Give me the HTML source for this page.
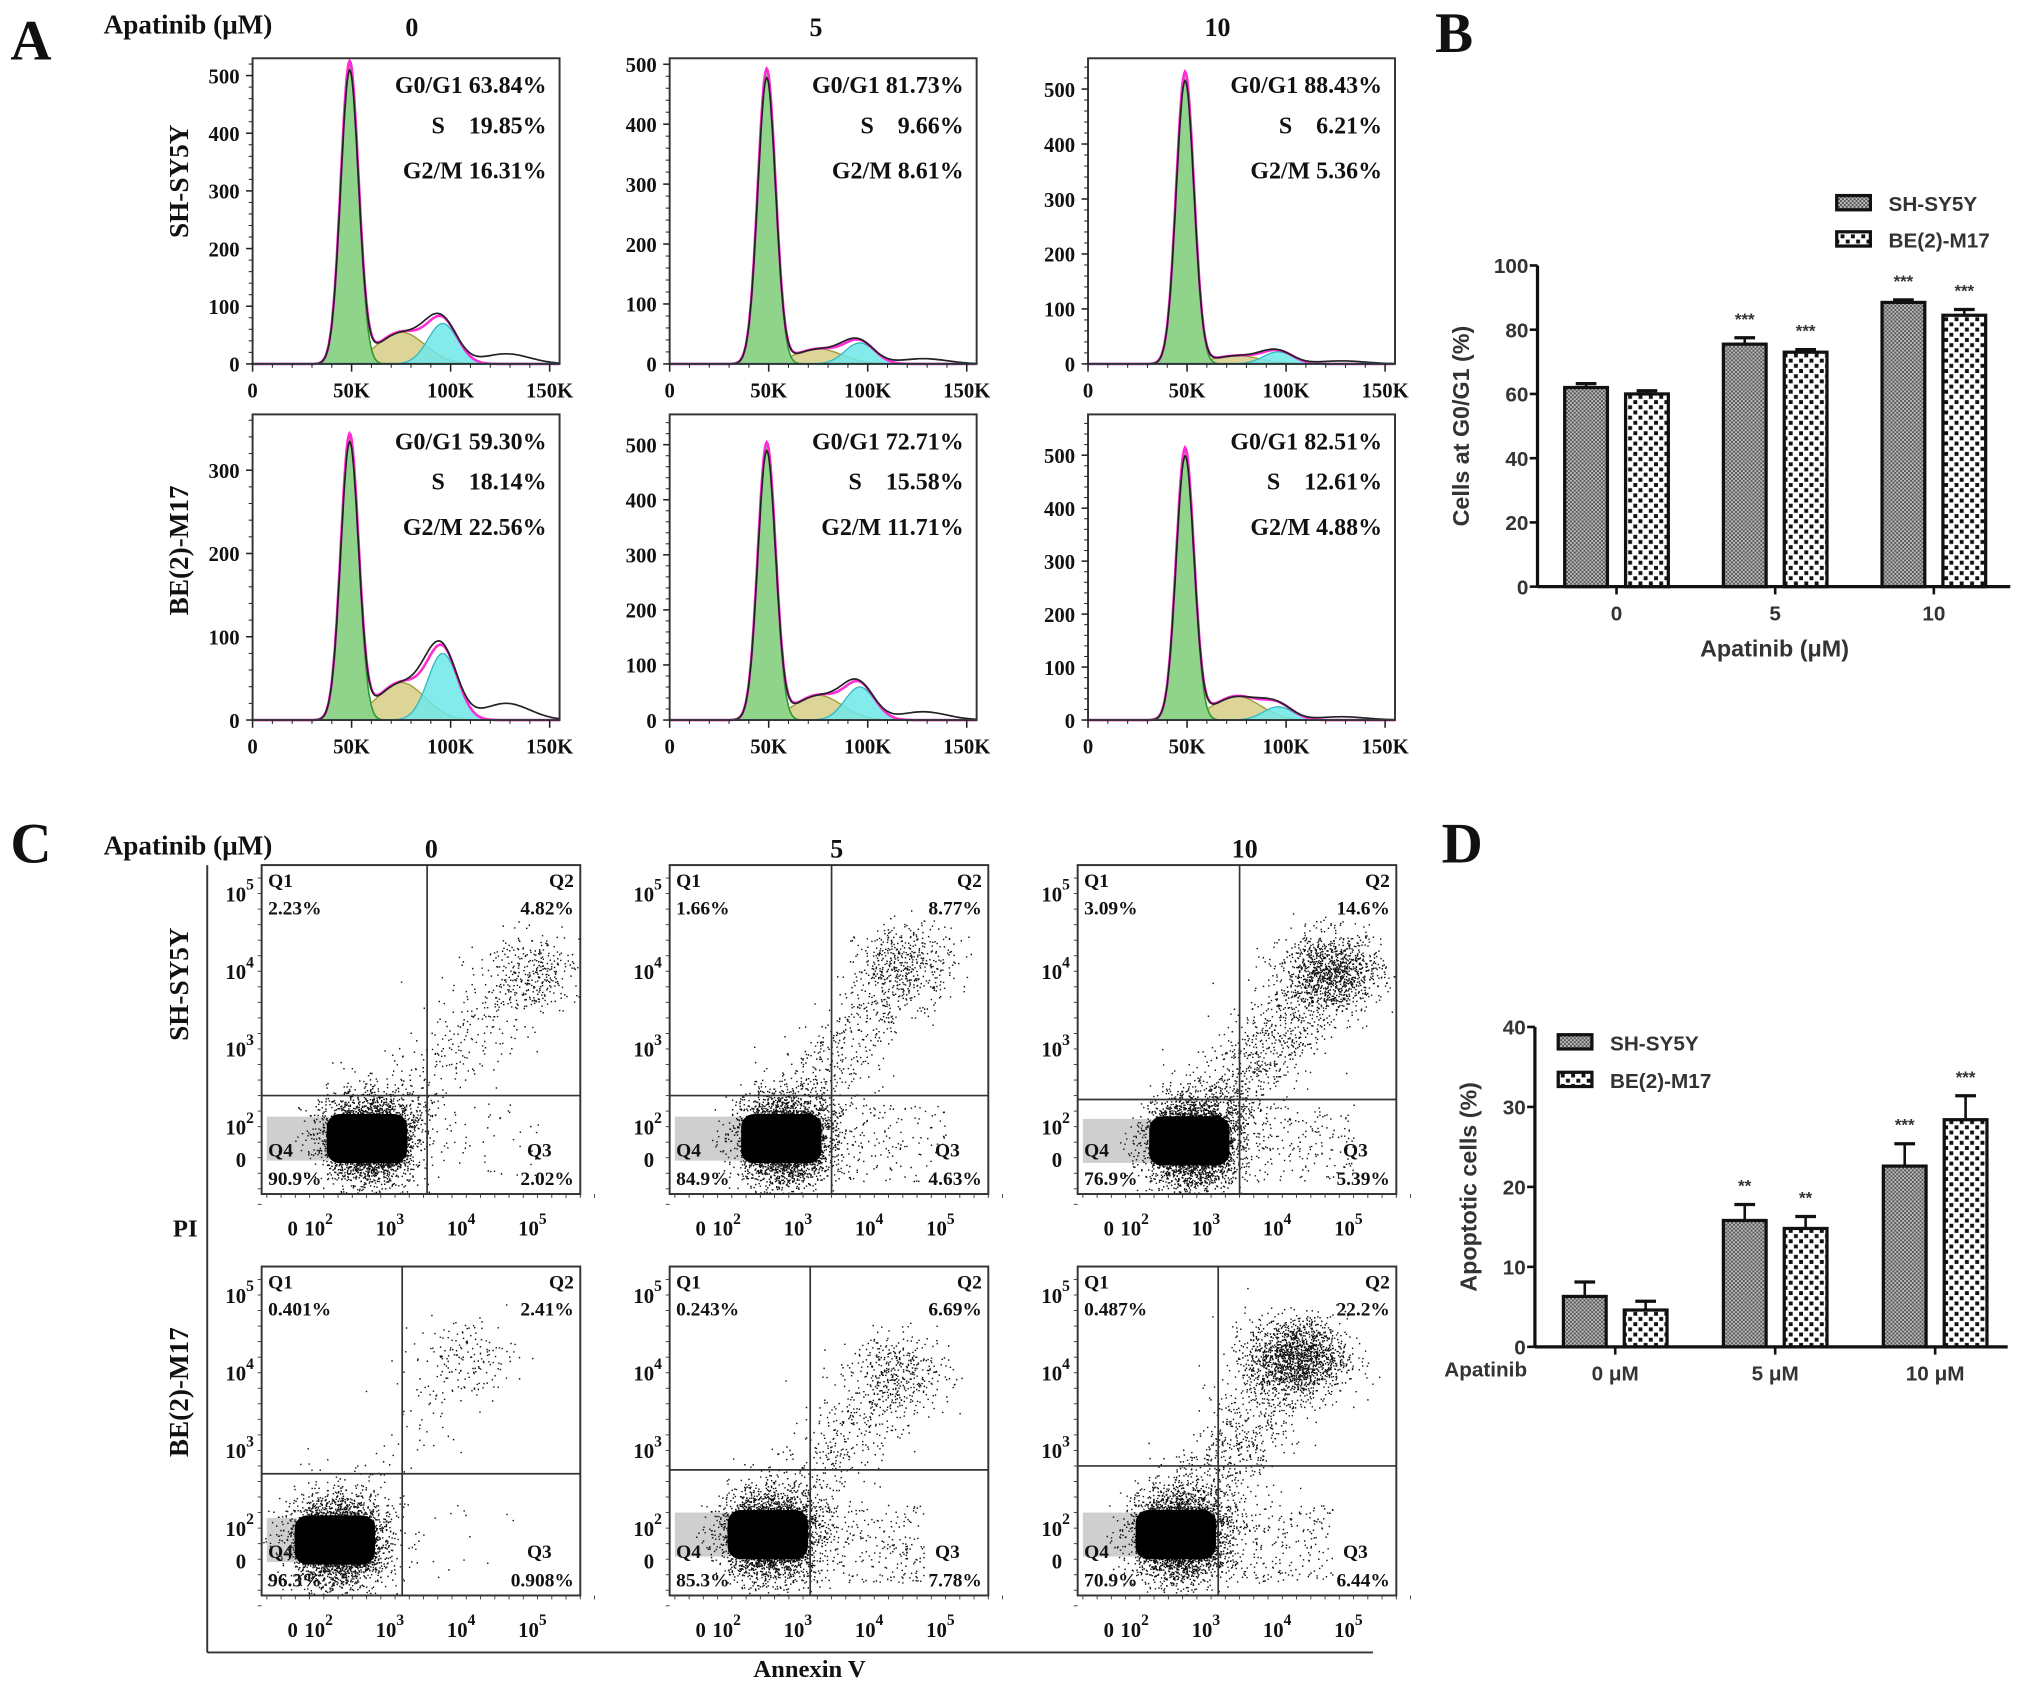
<!DOCTYPE html>
<html><head><meta charset="utf-8"><style>
html,body{margin:0;padding:0;background:#fff;}
svg{display:block;}
.sf{font-family:"Liberation Serif",serif;font-weight:bold;fill:#111;}
.ss{font-family:"Liberation Sans",sans-serif;font-weight:bold;fill:#333;}
</style></head><body>
<svg id="fig" width="2031" height="1690" viewBox="0 0 1568 1305" preserveAspectRatio="none" xmlns="http://www.w3.org/2000/svg">
<defs>
<pattern id="patSH" width="3" height="3" patternUnits="userSpaceOnUse"><rect width="3" height="3" fill="#bdbdbd"/><rect width="1.5" height="1.5" fill="#555"/><rect x="1.5" y="1.5" width="1.5" height="1.5" fill="#555"/></pattern>
<pattern id="patBE" width="8" height="8" patternUnits="userSpaceOnUse"><rect width="8" height="8" fill="#fff"/><rect x="1" y="1" width="3" height="3" fill="#111"/><rect x="5" y="5" width="3" height="3" fill="#111"/></pattern>
</defs>
<g id="root"></g>
</svg>
<script>
// ---------- Panel A data ----------
const histG1Peak = [520, 490, 530, 340, 500, 510];
const histSPeak  = [55, 25, 15, 45, 45, 45];
const histG2Peak = [70, 35, 22, 80, 60, 25];
const histYMax   = [530, 510, 556, 367, 555, 577];
const histYStep  = [100, 100, 100, 100, 100, 100];
const histG1Text = ["63.84%","81.73%","88.43%","59.30%","72.71%","82.51%"];
const histSText  = ["19.85%","9.66%","6.21%","18.14%","15.58%","12.61%"];
const histG2Text = ["16.31%","8.61%","5.36%","22.56%","11.71%","4.88%"];
const histXTicks = [0, 50, 100, 150];
const histXLabels = ["0","50K","100K","150K"];
// ---------- Panel B data ----------
const bCategories = ["0","5","10"];
const bSH = [62, 75.5, 88.5];
const bSHerr = [1.2, 2.0, 0.8];
const bBE = [60, 73, 84.5];
const bBEerr = [1.0, 0.8, 1.8];
const bSHstars = ["","***","***"];
const bBEstars = ["","***","***"];
const bTicks = [0,20,40,60,80,100];
// ---------- Panel D data ----------
const dCategories = ["0 μM","5 μM","10 μM"];
const dSH = [6.3, 15.8, 22.6];
const dSHerr = [1.8, 2.0, 2.8];
const dBE = [4.6, 14.8, 28.4];
const dBEerr = [1.1, 1.5, 3.0];
const dSHstars = ["","**","***"];
const dBEstars = ["","**","***"];
const dTicks = [0,10,20,30,40];
// ---------- Panel C data ----------
const dotQ1 = ["2.23%","1.66%","3.09%","0.401%","0.243%","0.487%"];
const dotQ2 = ["4.82%","8.77%","14.6%","2.41%","6.69%","22.2%"];
const dotQ3 = ["2.02%","4.63%","5.39%","0.908%","7.78%","6.44%"];
const dotQ4 = ["90.9%","84.9%","76.9%","96.3%","85.3%","70.9%"];
const dotQ4cx = [2.55, 2.64, 2.64, 2.1, 2.45, 2.45];
const dotQ4cy = [1.83, 1.83, 1.8, 1.83, 1.9, 1.9];
const dotQ2cx = [4.9, 4.45, 4.7, 4.0, 4.36, 4.2];
const dotQ2cy = [4.0, 4.1, 4.0, 4.2, 4.0, 4.2];
const dotQ2n  = [300, 400, 1000, 150, 350, 1500];
const dotTrailN = [350, 600, 1100, 120, 500, 900];
const dotQ3n = [50, 150, 180, 15, 250, 250];
const dotGateX = [3.45, 3.4, 3.4, 3.1, 3.1, 3.1];
const dotGateY = [2.4, 2.4, 2.35, 2.7, 2.75, 2.8];

const NS="http://www.w3.org/2000/svg";
const root=document.getElementById('root');
function mk(tag,attrs,parent){const e=document.createElementNS(NS,tag);for(const k in attrs)e.setAttribute(k,attrs[k]);(parent||root).appendChild(e);return e;}
function txt(x,y,s,cls,size,anchor,parent){const t=mk('text',{x:x,y:y,'class':cls,'font-size':size,'text-anchor':anchor||'start'},parent);t.textContent=s;return t;}

let t;
t=txt(8,46,"A","sf",44);
t=txt(1108,40,"B","sf",44);
t=txt(8,666,"C","sf",44);
t=txt(1113,666,"D","sf",44);
t=txt(80,26,"Apatinib (μM)","sf",21);
t=txt(80,660,"Apatinib (μM)","sf",21);
const doseHdr=["0","5","10"];
[318,630,940].forEach((x,i)=>{const e=txt(x,28,doseHdr[i],"sf",20,'middle');});
[333,646,961].forEach((x,i)=>{const e=txt(x,662,doseHdr[i],"sf",20,'middle');});
function vtext(x,y,s,cls,size,name){const e=txt(0,0,s,cls,size,'middle');e.setAttribute('transform',`translate(${x},${y}) rotate(-90)`);return e;}
vtext(145,140,"SH-SY5Y","sf",21,'row-label-sh');
vtext(145,425,"BE(2)-M17","sf",21,'row-label-be');
vtext(145,760,"SH-SY5Y","sf",21,'row-label-sh-c');
vtext(145,1075,"BE(2)-M17","sf",21,'row-label-be-c');
t=txt(143,955,"PI","sf",19,'middle');
t=txt(625,1295,"Annexin V","sf",19,'middle');

// ---------- Panel A histograms ----------
const histBoxes=[[195,45],[517,45],[840,45],[195,320],[517,320],[840,320]];
const HW=237, HH=236, XMAX=155;
function gauss(x,mu,s){return Math.exp(-0.5*((x-mu)/s)**2);}
histBoxes.forEach((b,i)=>{
  const g=mk('g',{});
  
  
  const [x0,y0]=b;
  const sx=v=>x0+v/XMAX*HW, sy=v=>y0+HH-v/histYMax[i]*HH;
  const comp={g1:[],s:[],g2:[],fit:[],raw:[]};
  for(let k=0;k<=XMAX;k+=0.5){
    const g1=histG1Peak[i]*gauss(k,49,4.5);
    const s=histSPeak[i]*gauss(k,75,12)*(k>40&&k<120?1:0);
    const g2=histG2Peak[i]*gauss(k,96,7.5);
    const fit=g1+s+g2;
    const raw=fit*0.97+histG2Peak[i]*0.25*gauss(k,128,12)+histG2Peak[i]*0.15*gauss(k,88,6);
    comp.g1.push([k,g1]);comp.s.push([k,s]);comp.g2.push([k,g2]);comp.fit.push([k,fit]);comp.raw.push([k,raw]);
  }
  const path=(arr,close)=>{let d=arr.map((p,j)=>(j?'L':'M')+sx(p[0]).toFixed(1)+' '+sy(Math.min(p[1],histYMax[i]*1.0)).toFixed(1)).join(' ');if(close)d+=` L${sx(XMAX)} ${sy(0)} L${sx(0)} ${sy(0)} Z`;return d;};
  let e;
  e=mk('path',{d:path(comp.s,true),fill:'#d9cf8c',stroke:'#9a9a30','stroke-width':1,'fill-opacity':0.9},g);
  e=mk('path',{d:path(comp.g2,true),fill:'#6ee8ea',stroke:'#2fb8c0','stroke-width':1,'fill-opacity':0.85},g);
  e=mk('path',{d:path(comp.g1,true),fill:'#8fd48a',stroke:'#2a9a2a','stroke-width':1.2},g);
  e=mk('path',{d:path(comp.fit,false),fill:'none',stroke:'#ff2bd6','stroke-width':2},g);
  e=mk('path',{d:path(comp.raw,false),fill:'none',stroke:'#222','stroke-width':1.3},g);
  mk('line',{x1:x0,y1:y0+HH,x2:x0+HW,y2:y0+HH,stroke:'#1ec8e0','stroke-width':1.5},g);
  e=mk('rect',{x:x0,y:y0,width:HW,height:HH,fill:'none',stroke:'#333','stroke-width':1.5},g);
  for(let v=0;v<=histYMax[i];v+=histYStep[i]){
    mk('line',{x1:x0-5,y1:sy(v),x2:x0,y2:sy(v),stroke:'#222','stroke-width':1.2},g);
    for(let m=1;m<5;m++){const vv=v+m*histYStep[i]/5;if(vv<=histYMax[i])mk('line',{x1:x0-3,y1:sy(vv),x2:x0,y2:sy(vv),stroke:'#222','stroke-width':0.8},g);}
    const l=txt(x0-10,sy(v)+6,String(v),"sf",16,'end',g);
  }
  histXTicks.forEach((v,j)=>{
    mk('line',{x1:sx(v),y1:y0+HH,x2:sx(v),y2:y0+HH+6,stroke:'#222','stroke-width':1.2},g);
    const l=txt(sx(v),y0+HH+26,histXLabels[j],"sf",16,'middle',g);
  });
  for(let v=10;v<XMAX;v+=10){if(v%50)mk('line',{x1:sx(v),y1:y0+HH,x2:sx(v),y2:y0+HH+3,stroke:'#222','stroke-width':0.8},g);}
  const rx=x0+HW-10;
  let l=txt(rx,y0+27,"G0/G1 "+histG1Text[i],"sf",18.5,'end',g);
  l=txt(rx,y0+58,"S    "+histSText[i],"sf",18.5,'end',g);l.style.whiteSpace='pre';
  l=txt(rx,y0+93,"G2/M "+histG2Text[i],"sf",18.5,'end',g);
});

// ---------- Panel C dot plots ----------
let seed=12345;
function rnd(){seed=(seed*1103515245+12345)&0x7fffffff;return seed/0x7fffffff;}
function gr(){let u=rnd()||1e-6,v=rnd();return Math.sqrt(-2*Math.log(u))*Math.cos(2*Math.PI*v);}
const dotBoxes=[[202,668],[517,668],[832,668],[202,978],[517,978],[832,978]];
const DW=246, DH=254;
mk('line',{x1:160,y1:668,x2:160,y2:1276,stroke:'#333','stroke-width':1.5});
mk('line',{x1:160,y1:1276,x2:1060,y2:1276,stroke:'#333','stroke-width':1.5});
dotBoxes.forEach((b,i)=>{
  const g=mk('g',{});
  
  
  const [x0,y0]=b;
  const dx=d=>x0+48+(d-2)*55, dy=d=>y0+22+(5-d)*60;
  const clip='clip'+i;
  const cp=mk('clipPath',{id:clip},g);mk('rect',{x:x0,y:y0,width:DW,height:DH},cp);
  const pts=mk('g',{'clip-path':`url(#${clip})`,fill:'#111'},g);
  const cxp=dx(dotQ4cx[i]), cyp=dy(dotQ4cy[i]);
  mk('rect',{x:x0+4,y:cyp-18,width:cxp-x0-30,height:34,fill:'#cfcfcf'},pts);
  let d='';
  const add=(x,y)=>{d+=`M${x.toFixed(1)} ${y.toFixed(1)}h1.1v1.1h-1.1z`;};
  for(let k=0;k<3500;k++){add(dx(dotQ4cx[i]+gr()*0.32+Math.abs(gr())*0.12),dy(dotQ4cy[i]+gr()*0.28));}
  for(let k=0;k<dotQ2n[i];k++){add(dx(dotQ2cx[i]+gr()*0.35),dy(dotQ2cy[i]+gr()*0.25));}
  for(let k=0;k<dotTrailN[i];k++){const f=rnd();add(dx(dotQ4cx[i]+(dotQ2cx[i]-dotQ4cx[i])*f+gr()*0.3),dy(dotQ4cy[i]+(dotQ2cy[i]-dotQ4cy[i])*f+gr()*0.28));}
  for(let k=0;k<dotQ3n[i];k++){add(dx(dotGateX[i]+rnd()*1.6),dy(1.3+rnd()*1.0));}
  const p=mk('path',{d:d,fill:'#111'},pts);
  const core=mk('rect',{x:cxp-28,y:cyp-20,width:62,height:38,rx:10,fill:'#000'},pts);
  let e=mk('line',{x1:dx(dotGateX[i]),y1:y0,x2:dx(dotGateX[i]),y2:y0+DH,stroke:'#333','stroke-width':1.3},g);
  e=mk('line',{x1:x0,y1:dy(dotGateY[i]),x2:x0+DW,y2:dy(dotGateY[i]),stroke:'#333','stroke-width':1.3},g);
  e=mk('rect',{x:x0,y:y0,width:DW,height:DH,fill:'none',stroke:'#333','stroke-width':1.5},g);
  const lab=(x,y,s,a,n)=>{const l=txt(x,y,s,"sf",15,a,g);};
  lab(x0+5,y0+17,"Q1",'start','q1-label');lab(x0+5,y0+38,dotQ1[i],'start','q1-percent');
  lab(x0+DW-5,y0+17,"Q2",'end','q2-label');lab(x0+DW-5,y0+38,dotQ2[i],'end','q2-percent');
  lab(x0+DW-22,y0+DH-29,"Q3",'end','q3-label');lab(x0+DW-5,y0+DH-7,dotQ3[i],'end','q3-percent');
  lab(x0+5,y0+DH-29,"Q4",'start','q4-label');lab(x0+5,y0+DH-7,dotQ4[i],'start','q4-percent');
  const yl=(d,s)=>{const l=txt(x0-6,dy(d)+6,"","sf",16,'end',g);
    const a=mk('tspan',{},l);a.textContent='10';const sp=mk('tspan',{dy:-9,'font-size':12},l);sp.textContent=s;};
  yl(5,'5');yl(4,'4');yl(3,'3');yl(2,'2');
  const l0=txt(x0-12,dy(1.58)+6,"0","sf",16,'end',g);
  for(let dd=1.0;dd<=5.3;dd+=0.2)mk('line',{x1:x0-3,y1:dy(dd),x2:x0,y2:dy(dd),stroke:'#333','stroke-width':0.7},g);
  for(let dd=1.2;dd<=5.9;dd+=0.2)mk('line',{x1:dx(dd),y1:y0+DH,x2:dx(dd),y2:y0+DH+3,stroke:'#333','stroke-width':0.7},g);
  const xy=y0+DH+32;
  const zl=txt(x0+24,xy,"0","sf",16,'middle',g);
  [2,3,4,5].forEach(d=>{const l=txt(dx(d)-4,xy,"","sf",16,'middle',g);
    const a=mk('tspan',{},l);a.textContent='10';const sp=mk('tspan',{dy:-9,'font-size':12},l);sp.textContent=String(d);});
});

// ---------- Bar charts ----------
function barChart(o){
  const g=mk('g',{});
  
  
  const sy=v=>o.y0-(v/o.max)*(o.y0-o.yTop);
  mk('line',{x1:o.x0,y1:o.yTop,x2:o.x0,y2:o.y0,stroke:'#111','stroke-width':2.5},g);
  mk('line',{x1:o.x0,y1:o.y0,x2:o.xEnd,y2:o.y0,stroke:'#111','stroke-width':2.5},g);
  o.ticks.forEach(v=>{mk('line',{x1:o.x0-6,y1:sy(v),x2:o.x0,y2:sy(v),stroke:'#111','stroke-width':2},g);
    const l=txt(o.x0-7,sy(v)+6,String(v),"ss",16,'end',g);});
  o.cats.forEach((c,i)=>{
    const cx=o.cx0+i*o.gap;
    mk('line',{x1:cx,y1:o.y0,x2:cx,y2:o.y0+6,stroke:'#111','stroke-width':2},g);
    const l=txt(cx,o.y0+26,c,"ss",16,'middle',g);
    [[o.sh,o.shErr,o.shStars,'url(#patSH)',-1,'bar-sh-sy5y'],[o.be,o.beErr,o.beStars,'url(#patBE)',1,'bar-be2-m17']].forEach(s=>{
      const [vals,errs,stars,fill,side,nm]=s;
      const bx=cx+side*(o.off)-o.bw/2;
      const top=sy(vals[i]), et=sy(vals[i]+errs[i]);
      mk('line',{x1:bx+o.bw/2,y1:top,x2:bx+o.bw/2,y2:et,stroke:'#111','stroke-width':2},g);
      mk('line',{x1:bx+o.bw/2-8,y1:et,x2:bx+o.bw/2+8,y2:et,stroke:'#111','stroke-width':2.5},g);
      const r=mk('rect',{x:bx,y:top,width:o.bw,height:o.y0-top,fill:fill,stroke:'#111','stroke-width':2.5},g);
      
      if(stars[i]){const st=txt(bx+o.bw/2,et-10,stars[i],"ss",13,'middle',g);}
    });
  });
  [['SH-SY5Y','url(#patSH)',0],['BE(2)-M17','url(#patBE)',1]].forEach(L=>{
    const ly=o.legY+L[2]*o.legGap;
    const lg=mk('g',{},g);
    mk('rect',{x:o.legX,y:ly-6,width:26,height:11,fill:L[1],stroke:'#111','stroke-width':2.5},lg);
    txt(o.legX+40,ly+6,L[0],"ss",16,'start',lg);
  });
  vtext(o.ylabX,(o.yTop+o.y0)/2,o.ylab,"ss",18,'y-axis-title');
  return g;
}
barChart({name:'g1-bar-chart',x0:1187,xEnd:1552,y0:453,yTop:205,max:100,ticks:bTicks,cats:bCategories,cx0:1248,gap:122.5,off:23.5,bw:33,
  sh:bSH,shErr:bSHerr,be:bBE,beErr:bBEerr,shStars:bSHstars,beStars:bBEstars,legX:1418,legY:157,legGap:28,ylab:"Cells at G0/G1 (%)",ylabX:1134});
t=txt(1370,507,"Apatinib (μM)","ss",18,'middle');
barChart({name:'apoptosis-bar-chart',x0:1185,xEnd:1550,y0:1040,yTop:793,max:40,ticks:dTicks,cats:dCategories,cx0:1247,gap:123.5,off:23.5,bw:33,
  sh:dSH,shErr:dSHerr,be:dBE,beErr:dBEerr,shStars:dSHstars,beStars:dBEstars,legX:1203,legY:805,legGap:29,ylab:"Apoptotic cells (%)",ylabX:1140});
t=txt(1115,1063,"Apatinib","ss",16,'start');
</script>
</body></html>
